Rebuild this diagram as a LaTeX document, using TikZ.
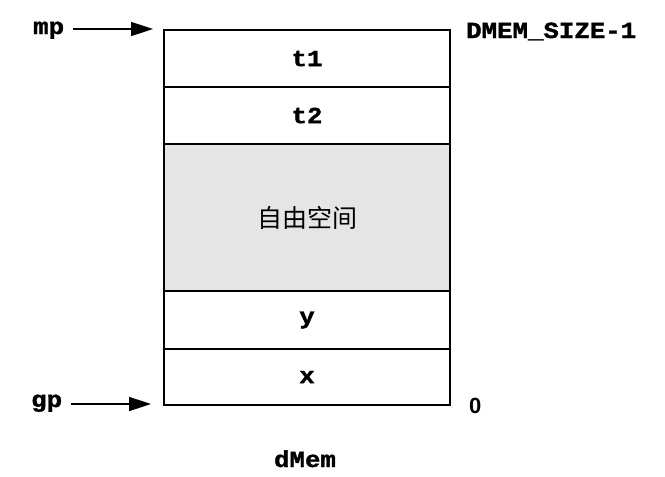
\documentclass[tikz,border=0pt]{standalone}
\usepackage{fontspec}
\usetikzlibrary{arrows.meta}
\newfontfamily\codefont[FakeStretch=1.12,FakeBold=1.5]{Liberation Mono}
\newfontfamily\cjk{Noto Sans CJK SC}
\setsansfont{Liberation Sans}
\definecolor{freegray}{HTML}{E5E5E5}
\tikzset{
  cell/.style={draw=black, line width=2.2pt, minimum width=286pt, inner sep=0pt, font=\codefont\bfseries\fontsize{23}{23}\selectfont},
  lbl/.style={inner sep=0pt, font=\codefont\bfseries\fontsize{23}{23}\selectfont},
  ptr/.style={line width=1.6pt, -{Triangle[length=22pt,width=14pt]}},
}
\begin{document}
\begin{tikzpicture}[x=1pt,y=1pt]
\useasboundingbox (0,0) rectangle (665,-477);
% memory cells
\node[cell, fill=freegray, minimum height=147pt] (free) at (307,-217.5) {\cjk\mdseries\fontsize{25}{25}\selectfont 自由空间};
\node[cell, minimum height=57pt] (t1) at (307,-58.5) {t1};
\node[cell, minimum height=57pt] (t2) at (307,-115.5) {t2};
\node[cell, minimum height=58pt] (y) at (307,-320) {y};
\node[cell, minimum height=56pt] (x) at (307,-377) {x};
% labels
\node[lbl, anchor=base west] (mp) at (33,-34) {mp};
\node[lbl, anchor=base west] (gp) at (31,-407) {gp};
\node[lbl, anchor=base west] (top) at (466,-38) {DMEM\_SIZE-1};
\node[inner sep=0pt, anchor=base west, font=\sffamily\bfseries\fontsize{22}{22}\selectfont] (zero) at (469,-413) {0};
\node[lbl, anchor=base] (dmem) at (305,-467) {dMem};
% pointers
\coordinate (mptip) at (153,-29);
\coordinate (mpstart) at (75,-29);
\coordinate (gptip) at (151,-404);
\coordinate (gpstart) at (75,-404);
\draw[ptr] (mp.east |- mpstart) ++(9,0) -- (mptip);
\draw[ptr] (gp.east |- gpstart) ++(9,0) -- (gptip);
\end{tikzpicture}
\end{document}
